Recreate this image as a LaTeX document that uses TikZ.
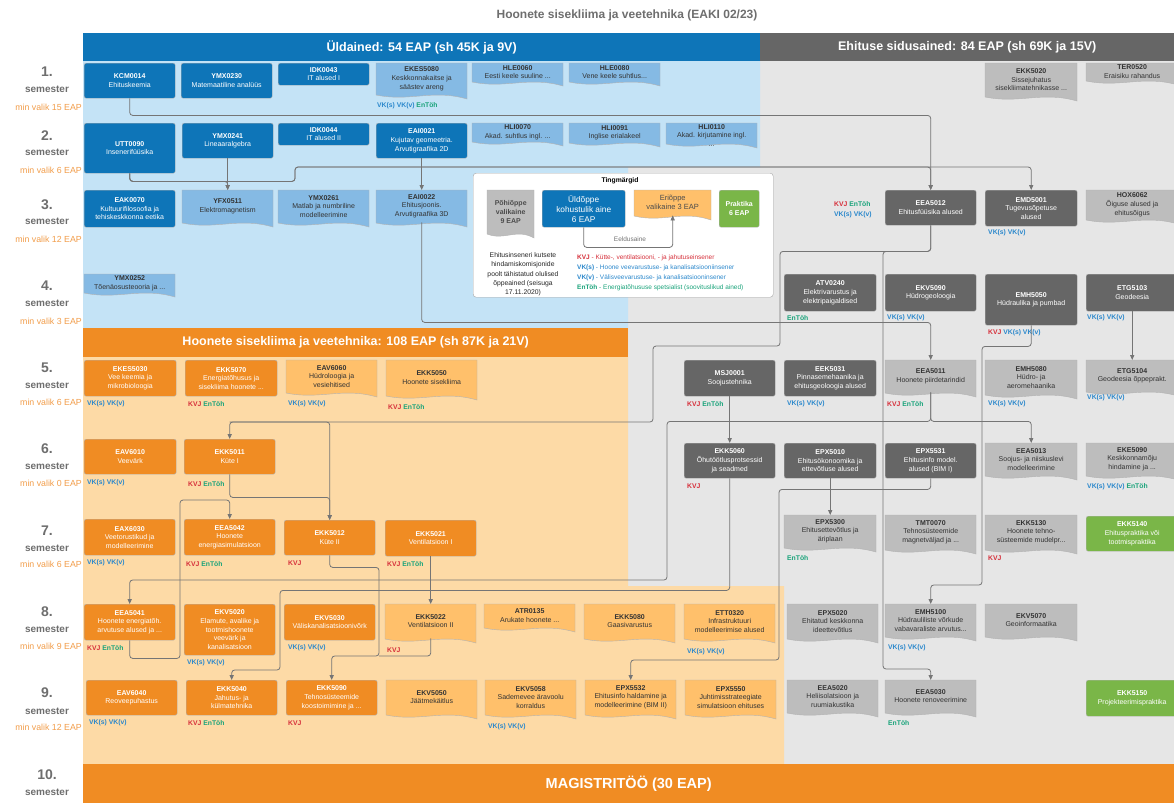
\documentclass[tikz,border=0pt]{standalone}
\usepackage{fontspec}
\setmainfont{Liberation Sans}
\usetikzlibrary{arrows.meta}
\definecolor{bgblue}{HTML}{C4E3F6}
\definecolor{hdblue}{HTML}{0E75B8}
\definecolor{docblue}{HTML}{85BAE4}
\definecolor{bggray}{HTML}{E6E6E6}
\definecolor{hdgray}{HTML}{666666}
\definecolor{docgray}{HTML}{BDBDBD}
\definecolor{bgor}{HTML}{FDDAA6}
\definecolor{hdor}{HTML}{F08C23}
\definecolor{docor}{HTML}{FFC06B}
\definecolor{grn}{HTML}{7AB648}
\definecolor{kvjc}{HTML}{D62F3A}
\definecolor{vkc}{HTML}{2B88CC}
\definecolor{enc}{HTML}{19A37A}
\definecolor{semc}{HTML}{6E6E6E}
\definecolor{minc}{HTML}{F29D4A}
\definecolor{linec}{HTML}{757575}
\definecolor{txtd}{HTML}{333333}
\tikzset{
 basetx/.style={inner sep=1pt, align=center, font=\fontsize{7}{8.6}\selectfont},
 sbx/.style={basetx, draw=black!30, line width=0.4pt, rounded corners=2pt, text=white},
 bluebox/.style={sbx, fill=hdblue},
 orbox/.style={sbx, fill=hdor},
 dgbox/.style={sbx, fill=hdgray},
 grbox/.style={sbx, fill=grn},
 doctext/.style={basetx, text=txtd},
 docline/.style={draw=black!30, line width=0.4pt},
 lbl/.style={anchor=west, inner sep=0pt, font=\fontsize{6.8}{8}\selectfont\bfseries},
 conn/.style={draw=linec, line width=0.8pt, rounded corners=3pt, -{Triangle[length=5pt,width=4.2pt]}},
 conn0/.style={draw=linec, line width=0.8pt, rounded corners=3pt},
 hdr/.style={text=white, font=\fontsize{12.5}{14}\selectfont\bfseries, inner sep=0pt, anchor=north west},
 semn/.style={text=semc, font=\fontsize{14}{16}\selectfont\bfseries, inner sep=0pt},
 sems/.style={text=semc, font=\fontsize{10}{12}\selectfont\bfseries, inner sep=0pt},
 semm/.style={text=minc, font=\fontsize{8.8}{10}\selectfont, inner sep=0pt, anchor=east},
}
\newcommand\mkbox[7]{\node[#6, minimum width=#4, minimum height=#5, anchor=north west] (#1) at (#2,#3) {\textbf{#1}\\#7};}
\newcommand\docshape[5]{\filldraw[docline, fill=#5] (#1,{#2+#4-2}) -- (#1,#2) -- ({#1+#3},#2) -- ({#1+#3},{#2+#4+2}) .. controls ({#1+0.62*#3},{#2+#4-8}) and ({#1+0.38*#3},{#2+#4+5}) .. (#1,{#2+#4-2}) -- cycle;}
\newcommand\mkdoc[7]{\docshape{#2}{#3}{#4}{#5}{#6}\node[doctext, minimum width=#4, minimum height=#5-3, anchor=north west] (#1) at (#2,#3) {\textbf{#1}\\#7};}
\newcommand\lkvj{\textcolor{kvjc}{KVJ}}
\newcommand\lvs{\textcolor{vkc}{VK(s)}}
\newcommand\lvv{\textcolor{vkc}{VK(v)}}
\newcommand\lent{\textcolor{enc}{EnTöh}}
\begin{document}
\begin{tikzpicture}[x=1pt,y=-1pt]
\useasboundingbox (0,0) rectangle (1174,803);
\fill[white] (0,0) rectangle (1174,803);
% backgrounds
\fill[bggray] (83,33) rectangle (1174,764);
\fill[bgblue] (83,33) -- (760,33) -- (760,167) -- (628,167) -- (628,328) -- (83,328) -- cycle;
\fill[bgor] (83,328) -- (628,328) -- (628,586) -- (784,586) -- (784,764) -- (83,764) -- cycle;
% title and headers
\node[text=semc, font=\fontsize{12}{14}\selectfont\bfseries, inner sep=0] (title) at (627,15) {Hoonete sisekliima ja veetehnika (EAKI 02/23)};
\node[hdr, fill=hdblue, minimum width=677, minimum height=28] (h1) at (83,33) {Üldained: 54 EAP (sh 45K ja 9V)};
\node[hdr, fill=hdgray, minimum width=414, minimum height=28] (h2) at (760,33) {Ehituse sidusained: 84 EAP (sh 69K ja 15V)};
\node[hdr, fill=hdor, minimum width=545, minimum height=29] (h3) at (83,328) {Hoonete sisekliima ja veetehnika: 108 EAP (sh 87K ja 21V)};
\node[hdr, fill=hdor, minimum width=1091, minimum height=39, font=\fontsize{14.5}{16}\selectfont\bfseries] (h4) at (83,764) {MAGISTRITÖÖ (30 EAP)};
% semester labels
\node[semn] (s1n) at (47,72) {1.};   \node[sems] (s1s) at (47,89) {semester};  \node[semm] (s1m) at (82,107) {min valik 15 EAP};
\node[semn] (s2n) at (47,136) {2.};  \node[sems] (s2s) at (47,152) {semester}; \node[semm] (s2m) at (82,170) {min valik 6 EAP};
\node[semn] (s3n) at (47,205) {3.};  \node[sems] (s3s) at (47,221) {semester}; \node[semm] (s3m) at (82,239) {min valik 12 EAP};
\node[semn] (s4n) at (47,286) {4.};  \node[sems] (s4s) at (47,303) {semester}; \node[semm] (s4m) at (82,321) {min valik 3 EAP};
\node[semn] (s5n) at (47,368) {5.};  \node[sems] (s5s) at (47,385) {semester}; \node[semm] (s5m) at (82,402) {min valik 6 EAP};
\node[semn] (s6n) at (47,449) {6.};  \node[sems] (s6s) at (47,466) {semester}; \node[semm] (s6m) at (82,483) {min valik 0 EAP};
\node[semn] (s7n) at (47,531) {7.};  \node[sems] (s7s) at (47,548) {semester}; \node[semm] (s7m) at (82,564) {min valik 6 EAP};
\node[semn] (s8n) at (47,612) {8.};  \node[sems] (s8s) at (47,629) {semester}; \node[semm] (s8m) at (82,646) {min valik 9 EAP};
\node[semn] (s9n) at (47,693) {9.};  \node[sems] (s9s) at (47,711) {semester}; \node[semm] (s9m) at (82,727) {min valik 12 EAP};
\node[semn] (s10n) at (47,775) {10.}; \node[sems] (s10s) at (47,792) {semester};
% legend
\node[draw=black!35, fill=white, rounded corners=3pt, minimum width=300, minimum height=124, anchor=north west, inner sep=0] (legend) at (473,173) {};
\node[font=\fontsize{6.8}{8}\selectfont\bfseries, inner sep=0] (lg0) at (620,181) {Tingmärgid};
\docshape{487}{190}{47}{46}{docgray}
\node[basetx, font=\fontsize{7}{8.8}\selectfont\bfseries, text=black!70, minimum width=47, minimum height=43, anchor=north west] (lg1) at (487,190) {Põhiõppe\\valikaine\\9 EAP};
\node[bluebox, font=\fontsize{8.3}{10}\selectfont, minimum width=83, minimum height=37, anchor=north west] (lg2) at (542,190) {Üldõppe\\kohustulik aine\\6 EAP};
\docshape{634}{190}{77}{28}{docor}
\node[basetx, font=\fontsize{7.5}{9.2}\selectfont, text=black!70, minimum width=77, minimum height=25, anchor=north west] (lg3) at (634,190) {Eriõppe\\valikaine 3 EAP};
\node[grbox, font=\fontsize{7}{9}\selectfont\bfseries, minimum width=40, minimum height=37, anchor=north west] (lg4) at (719,190) {Praktika\\6 EAP};
\draw[conn] (lg2.south) -- ++(0,20) -| (lg3.south);
\node[text=black!55, font=\fontsize{6.5}{8}\selectfont, inner sep=0] (lg5) at (630,239) {Eeldusaine};
\node[font=\fontsize{6.8}{9.3}\selectfont, align=center, inner sep=0, text=black!85] (lg6) at (523,274.5) {Ehitusinseneri kutsete\\hindamiskomisjonide\\poolt tähistatud olulised\\õppeained (seisuga\\17.11.2020)};
\node[anchor=west, inner sep=0, font=\fontsize{6.5}{8}\selectfont, text=kvjc] (lg7) at (577,258) {\textbf{KVJ} - Kütte-, ventilatsiooni, - ja jahutuseinsener};
\node[anchor=west, inner sep=0, font=\fontsize{6.5}{8}\selectfont, text=vkc] (lg8) at (577,268) {\textbf{VK(s)} - Hoone veevarustuse- ja kanalisatsiooniinsener};
\node[anchor=west, inner sep=0, font=\fontsize{6.5}{8}\selectfont, text=vkc] (lg9) at (577,278) {\textbf{VK(v)} - Välisveevarustuse- ja kanalisatsiooninsener};
\node[anchor=west, inner sep=0, font=\fontsize{6.5}{8}\selectfont, text=enc] (lg10) at (577,288) {\textbf{EnTöh} - Energiatõhususe spetsialist (soovituslikud ained)};
% row 1
\mkbox{KCM0014}{84}{63}{91}{35}{bluebox}{Ehituskeemia}
\mkbox{YMX0230}{181}{63}{91}{35}{bluebox}{Matemaatiline analüüs}
\mkbox{IDK0043}{278}{63}{91}{22}{bluebox}{IT alused I}
\mkdoc{EKES5080}{376}{63}{91}{34}{docblue}{Keskkonnakaitse ja\\säästev areng}
\mkdoc{HLE0060}{472}{63}{91}{21}{docblue}{Eesti keele suuline ...}
\mkdoc{HLE0080}{569}{63}{91}{21}{docblue}{Vene keele suhtlus...}
\mkdoc{EKK5020}{985}{63}{92}{36}{docgray}{Sissejuhatus\\sisekliimatehnikasse ...}
\mkdoc{TER0520}{1086}{63}{92}{20}{docgray}{Eraisiku rahandus}
% row 2
\mkbox{UTT0090}{84}{123}{91}{50}{bluebox}{Insenerifüüsika}
\mkbox{YMX0241}{182}{123}{91}{35}{bluebox}{Lineaaralgebra}
\mkbox{IDK0044}{278}{123}{91}{22}{bluebox}{IT alused II}
\mkbox{EAI0021}{376}{123}{91}{35}{bluebox}{Kujutav geomeetria.\\Arvutigraafika 2D}
\mkdoc{HLI0070}{472}{123}{91}{21}{docblue}{Akad. suhtlus ingl. ...}
\mkdoc{HLI0091}{569}{123}{91}{22}{docblue}{Inglise erialakeel}
\mkdoc{HLI0110}{666}{123}{91}{23}{docblue}{Akad. kirjutamine ingl.\\...}
% row 3
\mkbox{EAK0070}{84}{190}{91}{37}{bluebox}{Kultuurifilosoofia ja\\tehiskeskkonna eetika}
\mkdoc{YFX0511}{182}{190}{91}{35}{docblue}{Elektromagnetism}
\mkdoc{YMX0261}{278}{190}{91}{35}{docblue}{Matlab ja numbriline\\modelleerimine}
\mkdoc{EAI0022}{376}{190}{91}{35}{docblue}{Ehitusjoonis.\\Arvutigraafika 3D}
\mkbox{EEA5012}{885}{190}{91}{35}{dgbox}{Ehitusfüüsika alused}
\mkbox{EMD5001}{985}{190}{92}{36}{dgbox}{Tugevusõpetuse\\alused}
\mkdoc{HOX6062}{1086}{190}{92}{32}{docgray}{Õiguse alused ja\\ehitusõigus}
% row 4
\mkdoc{YMX0252}{84}{274}{91}{21}{docblue}{Tõenäosusteooria ja ...}
\mkbox{ATV0240}{784}{274}{92}{37}{dgbox}{Elektrivarustus ja\\elektripaigaldised}
\mkbox{EKV5090}{885}{274}{91}{37}{dgbox}{Hüdrogeoloogia}
\mkbox{EMH5050}{985}{274}{92}{51}{dgbox}{Hüdraulika ja pumbad}
\mkbox{ETG5103}{1086}{274}{92}{37}{dgbox}{Geodeesia}
% row 5
\mkbox{EKES5030}{84}{360}{92}{36}{orbox}{Vee keemia ja\\mikrobioloogia}
\mkbox{EKK5070}{185}{360}{92}{36}{orbox}{Energiatõhusus ja\\sisekliima hoonete ...}
\mkdoc{EAV6060}{286}{360}{91}{35}{docor}{Hüdroloogia ja\\vesiehitised}
\mkdoc{EKK5050}{386}{360}{91}{38}{docor}{Hoonete sisekliima}
\mkbox{MSJ0001}{684}{360}{91}{36}{dgbox}{Soojustehnika}
\mkbox{EEK5031}{784}{360}{92}{36}{dgbox}{Pinnasemehaanika ja\\ehitusgeoloogia alused}
\mkdoc{EEA5011}{885}{360}{91}{35}{docgray}{Hoonete piirdetarindid}
\mkdoc{EMH5080}{985}{360}{92}{37}{docgray}{Hüdro- ja\\aeromehaanika}
\mkdoc{ETG5104}{1086}{360}{92}{34}{docgray}{Geodeesia õppeprakt.}
% row 6
\mkbox{EAV6010}{84}{439}{92}{35}{orbox}{Veevärk}
\mkbox{EKK5011}{184}{439}{91}{35}{orbox}{Küte I}
\mkbox{EKK5060}{684}{443}{91}{35}{dgbox}{Õhutöötlusprotsessid\\ja seadmed}
\mkbox{EPX5010}{784}{443}{92}{35}{dgbox}{Ehitusökonoomika ja\\ettevõtluse alused}
\mkbox{EPX5531}{885}{443}{91}{35}{dgbox}{Ehitusinfo model.\\alused (BIM I)}
\mkdoc{EEA5013}{985}{443}{92}{35}{docgray}{Soojus- ja niiskuslevi\\modelleerimine}
\mkdoc{EKE5090}{1086}{443}{92}{35}{docgray}{Keskkonnamõju\\hindamine ja ...}
% row 7
\mkbox{EAX6030}{84}{519}{91}{36}{orbox}{Veetorustikud ja\\modelleerimine}
\mkbox{EEA5042}{184}{519}{91}{36}{orbox}{Hoonete\\energiasimulatsioon}
\mkbox{EKK5012}{284}{520}{91}{35}{orbox}{Küte II}
\mkbox{EKK5021}{385}{520}{91}{36}{orbox}{Ventilatsioon I}
\mkdoc{EPX5300}{784}{515}{92}{35}{docgray}{Ehitusettevõtlus ja\\äriplaan}
\mkdoc{TMT0070}{885}{515}{91}{37}{docgray}{Tehnosüsteemide\\magnetväljad ja ...}
\mkdoc{EKK5130}{985}{515}{92}{37}{docgray}{Hoonete tehno-\\süsteemide mudelpr...}
\mkbox{EKK5140}{1086}{516}{92}{35}{grbox}{Ehituspraktika või\\tootmispraktika}
% row 8
\mkbox{EEA5041}{84}{604}{91}{36}{orbox}{Hoonete energiatõh.\\arvutuse alused ja ...}
\mkbox{EKV5020}{184}{604}{91}{51}{orbox}{Elamute, avalike ja\\tootmishoonete\\veevärk ja\\kanalisatsioon}
\mkbox{EKV5030}{284}{604}{91}{36}{orbox}{Väliskanalisatsioonivõrk}
\mkdoc{EKK5022}{385}{604}{91}{37}{docor}{Ventilatsioon II}
\mkdoc{ATR0135}{484}{604}{91}{26}{docor}{Arukate hoonete ...}
\mkdoc{EKK5080}{584}{604}{91}{37}{docor}{Gaasivarustus}
\mkdoc{ETT0320}{684}{604}{91}{37}{docor}{Infrastruktuuri\\modelleerimise alused}
\mkdoc{EPX5020}{787}{604}{91}{37}{docgray}{Ehitatud keskkonna\\ideettevõtlus}
\mkdoc{EMH5100}{885}{604}{91}{35}{docgray}{Hüdrauliliste võrkude\\vabavaraliste arvutus...}
\mkdoc{EKV5070}{985}{604}{92}{35}{docgray}{Geoinformaatika}
% row 9
\mkbox{EAV6040}{86}{680}{91}{35}{orbox}{Reoveepuhastus}
\mkbox{EKK5040}{186}{680}{91}{35}{orbox}{Jahutus- ja\\külmatehnika}
\mkbox{EKK5090}{286}{680}{91}{35}{orbox}{Tehnosüsteemide\\koostoimimine ja ...}
\mkdoc{EKV5050}{386}{680}{91}{37}{docor}{Jäätmekäitlus}
\mkdoc{EKV5058}{485}{680}{91}{37}{docor}{Sademevee äravoolu\\korraldus}
\mkdoc{EPX5532}{585}{680}{91}{37}{docor}{Ehitusinfo haldamine ja\\modelleerimine (BIM II)}
\mkdoc{EPX5550}{685}{680}{91}{37}{docor}{Juhtimisstrateegiate\\simulatsioon ehituses}
\mkdoc{EEA5020}{787}{680}{91}{35}{docgray}{Heliisolatsioon ja\\ruumiakustika}
\mkdoc{EEA5030}{885}{680}{91}{35}{docgray}{Hoonete renoveerimine}
\mkbox{EKK5150}{1086}{680}{92}{36}{grbox}{Projekteerimispraktika}
% labels
\node[lbl] (l01) at (377,106) {\lvs\ \lvv\ \lent};
\node[lbl] (l02) at (834,204) {\lkvj\ \lent};
\node[lbl] (l03) at (834,215) {\lvs\ \lvv};
\node[lbl] (l04) at (988,233) {\lvs\ \lvv};
\node[lbl] (l05) at (787,318) {\lent};
\node[lbl] (l06) at (887,318) {\lvs\ \lvv};
\node[lbl] (l07) at (988,333) {\lkvj\ \lvs\ \lvv};
\node[lbl] (l08) at (1087,318) {\lvs\ \lvv};
\node[lbl] (l09) at (87,404) {\lvs\ \lvv};
\node[lbl] (l10) at (188,404) {\lkvj\ \lent};
\node[lbl] (l11) at (288,404) {\lvs\ \lvv};
\node[lbl] (l12) at (388,407) {\lkvj\ \lent};
\node[lbl] (l13) at (687,404) {\lkvj\ \lent};
\node[lbl] (l14) at (787,404) {\lvs\ \lvv};
\node[lbl] (l15) at (887,404) {\lkvj\ \lent};
\node[lbl] (l16) at (988,404) {\lvs\ \lvv};
\node[lbl] (l17) at (1087,398) {\lvs\ \lvv};
\node[lbl] (l18) at (87,483) {\lvs\ \lvv};
\node[lbl] (l19) at (188,484) {\lkvj\ \lent};
\node[lbl] (l20) at (687,486) {\lkvj};
\node[lbl] (l21) at (1087,487) {\lvs\ \lvv\ \lent};
\node[lbl] (l22) at (87,563) {\lvs\ \lvv};
\node[lbl] (l23) at (186,564) {\lkvj\ \lent};
\node[lbl] (l24) at (288,563) {\lkvj};
\node[lbl] (l25) at (387,564) {\lkvj\ \lent};
\node[lbl] (l26) at (787,558) {\lent};
\node[lbl] (l27) at (988,558) {\lkvj};
\node[lbl] (l28) at (87,648) {\lkvj\ \lent};
\node[lbl] (l29) at (187,663) {\lvs\ \lvv};
\node[lbl] (l30) at (288,648) {\lvs\ \lvv};
\node[lbl] (l31) at (387,650) {\lkvj};
\node[lbl] (l32) at (687,652) {\lvs\ \lvv};
\node[lbl] (l33) at (888,648) {\lvs\ \lvv};
\node[lbl] (l34) at (89,723) {\lvs\ \lvv};
\node[lbl] (l35) at (188,723) {\lkvj\ \lent};
\node[lbl] (l36) at (288,723) {\lkvj};
\node[lbl] (l37) at (488,727) {\lvs\ \lvv};
\node[lbl] (l38) at (888,723) {\lent};
% connectors
\draw[conn] (KCM0014.south) -- ++(0,17) -| (EEA5012.north);
\draw[conn] (UTT0090.south) -- ++(0,8) -| (YFX0511.north);
\draw[conn] (UTT0090.south) -- ++(0,8) -| (295,167) -| (EMD5001.north);
\draw[conn] (UTT0090.south) -- ++(0,8) -| (295,167) -| (EEA5012.north);
\draw[conn] (YMX0241.south) -- (YFX0511.north);
\draw[conn] (EAI0021.south) -- (EAI0022.north);
\draw[conn] (EAI0022.south) -- ++(0,100) -| (EEA5011.north);
\draw[conn] (EEA5012.south) -- ++(0,26) -| (780,346) -| (653,422) -| (EKK5011.north);
\draw[conn] (EEA5012.south) -- ++(0,26) -| (883,669) -| (EEA5030.north);
\draw[conn] (EKK5011.north |- 0,422) -| (EKK5012.north);
\draw[conn] (EKK5011.south) -- ++(0,23) -| (EKK5012.north);
\draw[conn] (EMH5050.south) -- ++(0,21) -| (982,585) -| (EMH5100.north);
\draw[conn] (EEA5011.south) -- ++(0,29) -| (EEA5013.north);
\draw[conn] (EEA5011.south) -- ++(0,29) -| (667,580) -| (EEA5041.north);
\draw[conn] (MSJ0001.south) -- (EKK5060.north);
\draw[conn] (EKK5060.south) -- ++(0,112) -| (280,670) -| (EKK5040.north);
\draw[conn] (EPX5010.south) -- (EPX5300.north);
\draw[conn] (EPX5531.south) -- ++(0,11) -| (779,660) -| (EPX5532.north);
\draw[conn] (ETG5103.south) -- (ETG5104.north);
\draw[conn] (EKK5012.south) -- ++(0,12) -| (379,656) -| (EKK5090.north);
\draw[conn0] (EKK5022.south) |- (379,656);
\draw[conn] (EKK5021.south) -- (EKK5022.north);
\draw[conn] (EEA5041.south) -- ++(0,18) -| (180,500) -| (EEA5042.north);
\end{tikzpicture}
\end{document}
